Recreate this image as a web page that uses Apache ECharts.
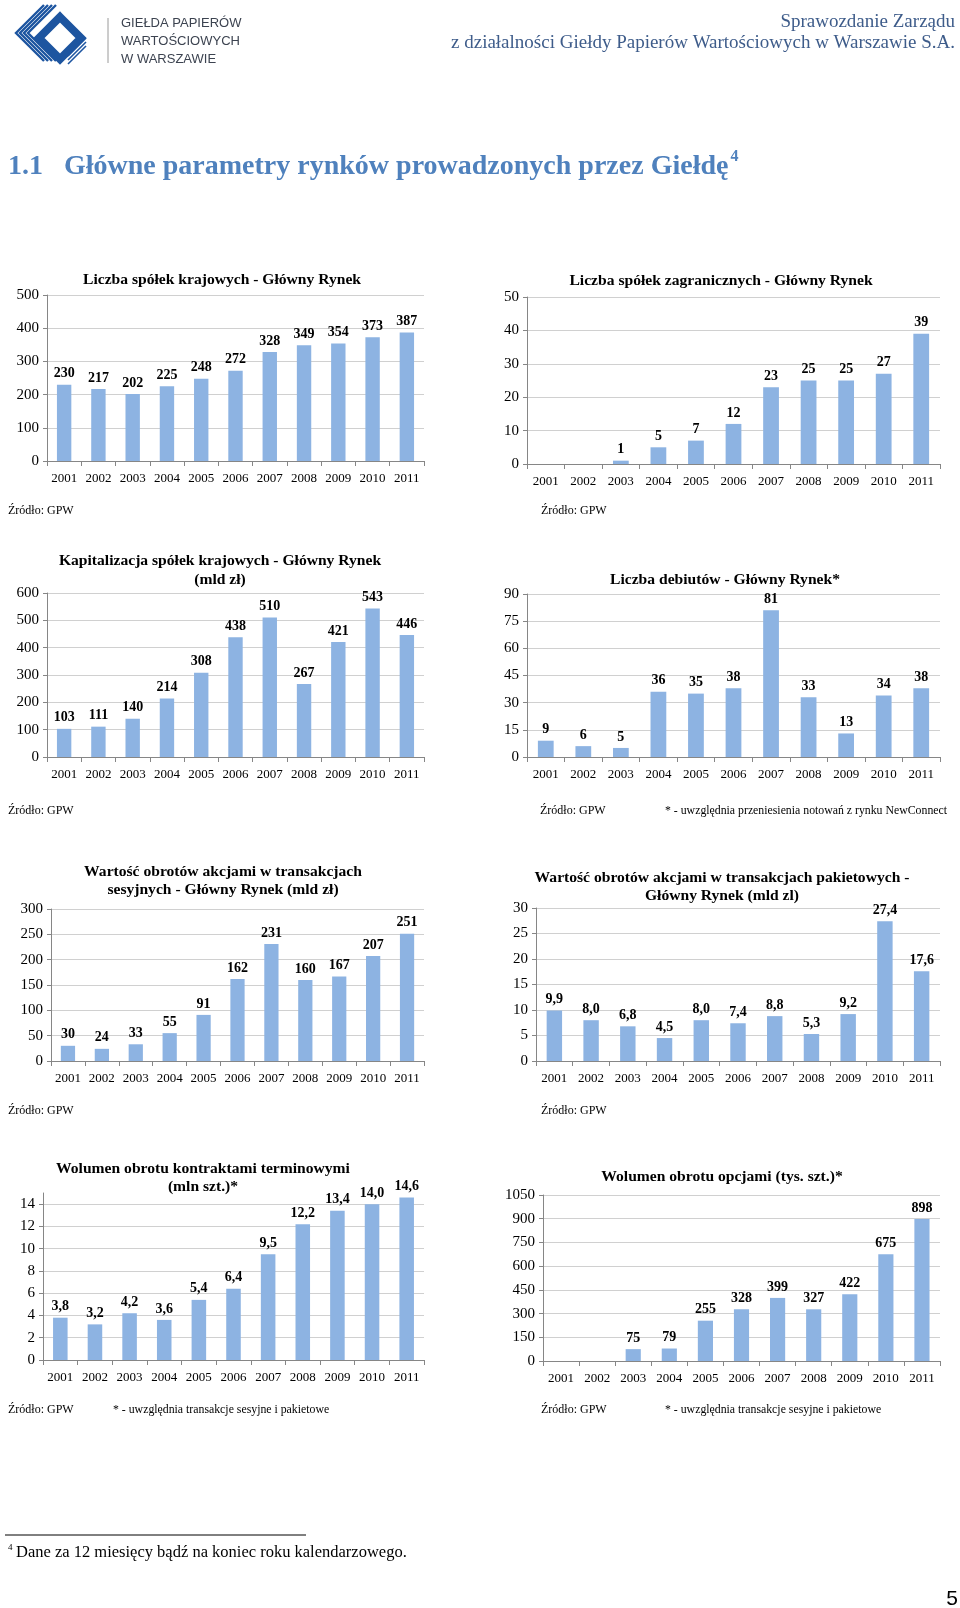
<!DOCTYPE html>
<html>
<head>
<meta charset="utf-8">
<script src="https://cdn.jsdelivr.net/npm/echarts@6/dist/echarts.min.js"></script>
<style>
html,body{margin:0;padding:0;background:#fff;}
#main{width:960px;height:1608px;}
</style>
</head>
<body>
<div id="main"></div>
<script>
// ---- data ----
const years = ['2001','2002','2003','2004','2005','2006','2007','2008','2009','2010','2011'];
const domesticCompanies = [230,217,202,225,248,272,328,349,354,373,387];
const foreignCompanies = [null,null,1,5,7,12,23,25,25,27,39];
const capitalization = [103,111,140,214,308,438,510,267,421,543,446];
const debuts = [9,6,5,36,35,38,81,33,13,34,38];
const sessionTurnover = [30,24,33,55,91,162,231,160,167,207,251];
const blockTurnover = [9.9,8.0,6.8,4.5,8.0,7.4,8.8,5.3,9.2,27.4,17.6];
const futuresVolume = [3.8,3.2,4.2,3.6,5.4,6.4,9.5,12.2,13.4,14.0,14.6];
const optionsVolume = [null,null,75,79,255,328,399,327,422,675,898];

const titles = [
  ['Liczba spółek krajowych - Główny Rynek'],
  ['Liczba spółek zagranicznych - Główny Rynek'],
  ['Kapitalizacja spółek krajowych - Główny Rynek','(mld zł)'],
  ['Liczba debiutów - Główny Rynek*'],
  ['Wartość obrotów akcjami w transakcjach','sesyjnych - Główny Rynek (mld zł)'],
  ['Wartość obrotów akcjami w transakcjach pakietowych -','Główny Rynek (mld zl)'],
  ['Wolumen obrotu kontraktami terminowymi','(mln szt.)*'],
  ['Wolumen obrotu opcjami (tys. szt.)*']
];
const seriesData = [domesticCompanies, foreignCompanies, capitalization, debuts, sessionTurnover, blockTurnover, futuresVolume, optionsVolume];
const axisMax = [500, 50, 600, 90, 300, 30, 15, 1050];
const axisInterval = [100, 10, 100, 15, 50, 5, 2, 150];
const decimals = [0,0,0,0,0,1,1,0];
const sourceText = 'Źródło: GPW';
const notes = [null,null,null,'* - uwzględnia przeniesienia notowań z rynku NewConnect',null,null,'* - uwzględnia transakcje sesyjne i pakietowe','* - uwzględnia transakcje sesyjne i pakietowe'];

// ---- layout ----
const layout = [
  {left:47, top:295, width:377, height:166, tx:222, ty:[280], sx:8, sy:511},
  {left:527, top:297, width:413, height:167, tx:721, ty:[281], sx:541, sy:511},
  {left:47, top:593, width:377, height:164, tx:220, ty:[561,580], sx:8, sy:811},
  {left:527, top:594, width:413, height:163, tx:725, ty:[580], sx:540, sy:811, nx:665},
  {left:51, top:909, width:373, height:152, tx:223, ty:[872,890], sx:8, sy:1111},
  {left:536, top:908, width:404, height:153, tx:722, ty:[878,896], sx:541, sy:1111},
  {left:43, top:1193, width:381, height:167, tx:203, ty:[1169,1187], sx:8, sy:1410, nx:113},
  {left:543, top:1195, width:397, height:166, tx:722, ty:[1177], sx:541, sy:1410, nx:665}
];

const SERIF = '"Liberation Serif", "Times New Roman", serif';
const axisColor = '#868686';
const gridColor = '#d0d0d0';
const barColor = '#8db3e2';

const grids = [], xAxes = [], yAxes = [], series = [], graphics = [];

function txt(text, x, y, font, fill, align, vAlign) {
  return {type:'text', x:x, y:y, silent:true,
    style:{text:text, font:font, fill:fill||'#000',
      textAlign:align||'left', align:align||'left',
      textVerticalAlign:vAlign||'middle', verticalAlign:vAlign||'middle'}};
}

layout.forEach((L, i) => {
  grids.push({left:L.left, top:L.top, width:L.width, height:L.height, containLabel:false, outerBoundsMode:'none'});
  xAxes.push({
    type:'category', gridIndex:i, data:years,
    axisLine:{show:true, lineStyle:{color:axisColor, width:1}},
    axisTick:{show:true, length:5, lineStyle:{color:axisColor}},
    axisLabel:{interval:0, margin:11, fontFamily:SERIF, fontSize:13, color:'#000', hideOverlap:false},
    splitLine:{show:false}
  });
  yAxes.push({
    type:'value', gridIndex:i, min:0, max:axisMax[i], interval:axisInterval[i],
    axisLine:{show:true, lineStyle:{color:axisColor, width:1}},
    axisTick:{show:true, length:4, lineStyle:{color:axisColor}},
    axisLabel:{margin:8, fontFamily:SERIF, fontSize:15, color:'#000', showMaxLabel: i === 6 ? false : true,
      formatter: v => String(v)},
    splitLine:{show:true, showMaxLine: i === 6 ? false : true, lineStyle:{color:gridColor, width:1}}
  });
  const dec = decimals[i];
  series.push({
    type:'bar', xAxisIndex:i, yAxisIndex:i, data:seriesData[i],
    barWidth:'42%', itemStyle:{color:barColor},
    label:{show:true, position:'top', distance:4, fontFamily:SERIF, fontWeight:'bold', fontSize:14, color:'#000',
      formatter: p => p.value == null ? '' : (dec ? Number(p.value).toFixed(dec).replace('.', ',') : String(p.value))},
    animation:false
  });
  titles[i].forEach((line, k) => {
    graphics.push(txt(line, L.tx, L.ty[k], 'bold 15.6px ' + SERIF, '#000', 'center'));
  });
  graphics.push(txt(sourceText, L.sx, L.sy, '12px ' + SERIF, '#000', 'left'));
  if (notes[i]) graphics.push(txt(notes[i], L.nx, L.sy, '11.8px ' + SERIF, '#000', 'left'));
});

// ---- header ----
const logoBlue = '#1d55a0';
for (let k = 0; k < 4; k++) {
  graphics.push({type:'polyline', silent:true, shape:{points:[[44 + k*4, 5],[16 + k*4, 33],[44 + k*4, 61]]},
    style:{stroke:logoBlue, lineWidth:2.4, fill:null}});
}
graphics.push({type:'polygon', silent:true, shape:{points:[[60,17],[81,38],[60,59],[39,38]]},
  style:{stroke:logoBlue, lineWidth:8, fill:null}});
for (let k = 0; k < 3; k++) {
  graphics.push({type:'line', silent:true, shape:{x1:86, y1:38 + k*4, x2:68, y2:56 + k*4},
    style:{stroke:logoBlue, lineWidth:1.6}});
}
graphics.push({type:'line', silent:true, shape:{x1:108, y1:18, x2:108, y2:63}, style:{stroke:'#9a9a9a', lineWidth:1}});
const logoFont = '13px "Liberation Sans", Arial, sans-serif';
graphics.push(txt('GIEŁDA PAPIERÓW', 121, 23, logoFont, '#3c4350', 'left'));
graphics.push(txt('WARTOŚCIOWYCH', 121, 41, logoFont, '#3c4350', 'left'));
graphics.push(txt('W WARSZAWIE', 121, 59, logoFont, '#3c4350', 'left'));

const headFont = '19px ' + SERIF;
graphics.push(txt('Sprawozdanie Zarządu', 955, 22, headFont, '#3e5c8a', 'right'));
graphics.push(txt('z działalności Giełdy Papierów Wartościowych w Warszawie S.A.', 955, 43, headFont, '#3e5c8a', 'right'));

// ---- section title ----
const titleFont = 'bold 28px ' + SERIF;
graphics.push(txt('1.1', 8, 167, titleFont, '#4f81bd', 'left'));
graphics.push(txt('Główne parametry rynków prowadzonych przez Giełdę', 64, 167, titleFont, '#4f81bd', 'left'));
graphics.push({type:'text', id:'sup', silent:true, x:0, y:157,
  style:{text:'4', font:'bold 16px ' + SERIF, fill:'#4f81bd', textAlign:'left', align:'left', textVerticalAlign:'middle', verticalAlign:'middle'}});

// ---- footnote ----
graphics.push({type:'line', silent:true, shape:{x1:5, y1:1535, x2:306, y2:1535}, style:{stroke:'#000', lineWidth:1}});
graphics.push(txt('4', 8, 1548, '9px ' + SERIF, '#000', 'left'));
graphics.push(txt('Dane za 12 miesięcy bądź na koniec roku kalendarzowego.', 16, 1553, '16.5px ' + SERIF, '#000', 'left'));
graphics.push(txt('5', 958, 1599, '21px "Liberation Sans", Arial, sans-serif', '#000', 'right'));

const chart = echarts.init(document.getElementById('main'), null, {renderer:'canvas'});

// measure title width to place superscript
const ctx = document.createElement('canvas').getContext('2d');
ctx.font = titleFont;
const tw = ctx.measureText('Główne parametry rynków prowadzonych przez Giełdę').width;
graphics.forEach(g => { if (g.id === 'sup') g.x = 64 + tw + 2; });

chart.setOption({
  animation:false,
  backgroundColor:'#ffffff',
  grid:grids, xAxis:xAxes, yAxis:yAxes, series:series,
  graphic:{elements:graphics}
});
</script>
</body>
</html>
